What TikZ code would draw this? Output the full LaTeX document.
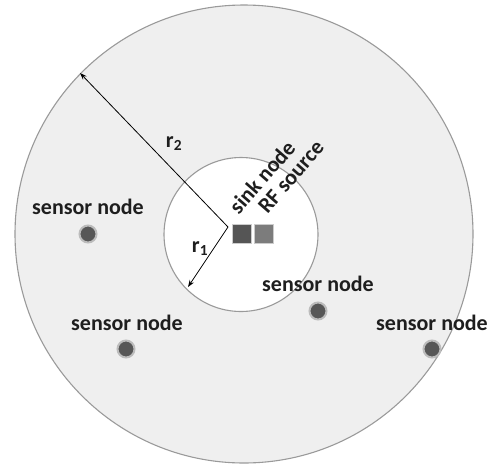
\documentclass[tikz,border=0pt]{standalone}
\usepackage{fontspec}
\setmainfont{Carlito}
\usetikzlibrary{arrows.meta}
\definecolor{ringfill}{HTML}{EFEFEF}
\definecolor{ringline}{HTML}{9A9A9A}
\definecolor{darkbox}{HTML}{555555}
\definecolor{lightbox}{HTML}{7C7C7C}
\definecolor{dotcol}{HTML}{575757}
\definecolor{txt}{HTML}{1E1E1E}
\tikzset{
  ring/.style={draw=ringline, line width=1.1pt},
  lbl/.style={font=\fontsize{22}{25}\selectfont\bfseries, text=txt, inner sep=0pt},
  sensordot/.style={circle, fill=dotcol, minimum size=17pt, inner sep=0pt,
    draw=dotcol!40!white, line width=2pt},
  sq/.style={minimum width=19pt, minimum height=19pt, inner sep=0pt, draw=black!20, line width=1pt},
  radius arrow/.style={-{Stealth[length=7pt,width=5pt]}, line width=0.8pt, black}
}
\begin{document}
\begin{tikzpicture}[x=1pt,y=-1pt]
\useasboundingbox (0,0) rectangle (493,467);
% rings
\draw[ring, fill=ringfill] (244,234) circle (229);
\draw[ring, fill=white] (241,234.5) circle (77);
% center and arrow ends
\coordinate (c) at (228,227);
\coordinate (e2) at (80,73);
\coordinate (e1) at (188,287);
\draw[radius arrow] (c) -- (e2);
\draw[radius arrow] (c) -- (e1);
\node[lbl] (r2) at (174,144) {r\textsubscript{2}};
\node[lbl] (r1) at (200,249) {r\textsubscript{1}};
% sink and RF source
\node[sq, fill=darkbox] (sink) at (241.5,233.5) {};
\node[sq, fill=lightbox] (rf) at (263.5,233.5) {};
\node[lbl, rotate=49] (sinklbl) at (262,177) {sink node};
\node[lbl, rotate=49] (rflbl) at (291,177) {RF source};
% sensors
\node[sensordot] (s1) at (88,234) {};
\node[sensordot] (s2) at (126,349) {};
\node[sensordot] (s3) at (318,311) {};
\node[sensordot] (s4) at (432,349) {};
\node[lbl] (l1) at (88,207) {sensor node};
\node[lbl] (l2) at (127,323) {sensor node};
\node[lbl] (l3) at (318,284) {sensor node};
\node[lbl] (l4) at (432,323) {sensor node};
\end{tikzpicture}
\end{document}
